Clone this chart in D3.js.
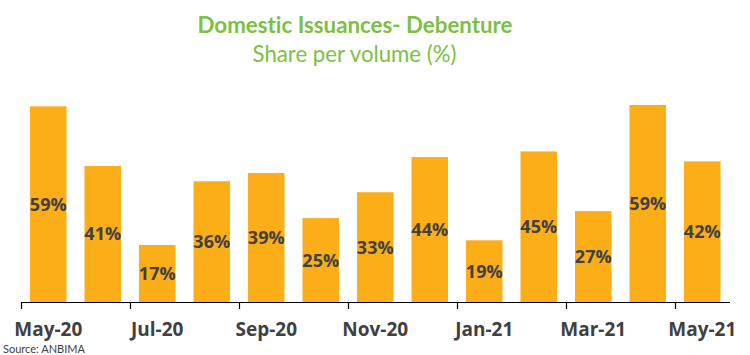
<!DOCTYPE html>
<html><head><meta charset="utf-8">
<script src="https://cdn.jsdelivr.net/npm/d3@7"></script>
<style>html,body{margin:0;padding:0;background:#fff;} text{font-variant-ligatures:none;font-feature-settings:"liga" 0;}</style>
</head><body>
<svg id="chart" width="750" height="355"></svg>
<script>
const months = ["May-20","Jun-20","Jul-20","Aug-20","Sep-20","Oct-20","Nov-20","Dec-20","Jan-21","Feb-21","Mar-21","Apr-21","May-21"];
const shares = [59.0, 41.0, 17.2, 36.4, 38.9, 25.3, 33.1, 43.7, 18.6, 45.4, 27.4, 59.4, 42.4];
const labels = ["59%","41%","17%","36%","39%","25%","33%","44%","19%","45%","27%","59%","42%"];
const shownMonths = ["May-20","Jul-20","Sep-20","Nov-20","Jan-21","Mar-21","May-21"];
const title = "Domestic Issuances- Debenture";
const subtitle = "Share per volume (%)";
const source = "Source: ANBIMA";

(function () {
const svg = d3.select("#chart");
const left = 21, right = 729.5, base = 302, plotTop = 103;
const x = d3.scaleBand().domain(months).range([left, right]).paddingInner(0.33).paddingOuter(0.165);
const y = d3.scaleLinear().domain([0, 60]).range([base, plotTop]);
const xb = d3.scaleLinear().domain([0, months.length]).range([left, right]);

svg.append("text").attr("x", 355).attr("y", 33).attr("text-anchor", "middle")
  .attr("font-family", "Lato").attr("font-weight", "bold").attr("font-size", 22.3)
  .attr("fill", "#7cc142").text(title);
svg.append("text").attr("x", 354.5).attr("y", 62).attr("text-anchor", "middle")
  .attr("font-family", "Lato").attr("font-size", 22.2)
  .attr("fill", "#7cc142").text(subtitle);

svg.append("g").selectAll("rect").data(months).join("rect")
  .attr("x", d => x(d)).attr("width", x.bandwidth())
  .attr("y", (d, i) => y(shares[i])).attr("height", (d, i) => base - y(shares[i]))
  .attr("fill", "#fbae17");

svg.append("g").selectAll("text").data(months).join("text")
  .attr("x", d => x(d) + x.bandwidth() / 2)
  .attr("y", (d, i) => (y(shares[i]) + base) / 2)
  .attr("dy", "0.36em").attr("text-anchor", "middle")
  .attr("font-family", "Open Sans").attr("font-weight", "bold").attr("font-size", 18)
  .attr("fill", "#404040").text((d, i) => labels[i]);

const tickAxis = svg.append("g").attr("transform", `translate(0,${base})`)
  .call(d3.axisBottom(xb).tickValues(d3.range(0, months.length, 2)).tickSize(7).tickSizeOuter(0).tickFormat(""));
tickAxis.select(".domain").attr("stroke", "#000").attr("stroke-width", 1.2);
tickAxis.selectAll(".tick line").attr("stroke", "#000").attr("stroke-width", 1.2);

const labAxis = svg.append("g").attr("transform", `translate(0,${base})`)
  .call(d3.axisBottom(x).tickValues(shownMonths).tickSize(0).tickPadding(21));
labAxis.select(".domain").remove();
labAxis.selectAll("text").attr("font-family", "Open Sans").attr("font-weight", "bold")
  .attr("font-size", 19).attr("fill", "#404040");

svg.append("text").attr("x", 3).attr("y", 353)
  .attr("font-family", "Lato").attr("font-size", 11).attr("fill", "#404040").text(source);
})();
</script>
</body></html>
